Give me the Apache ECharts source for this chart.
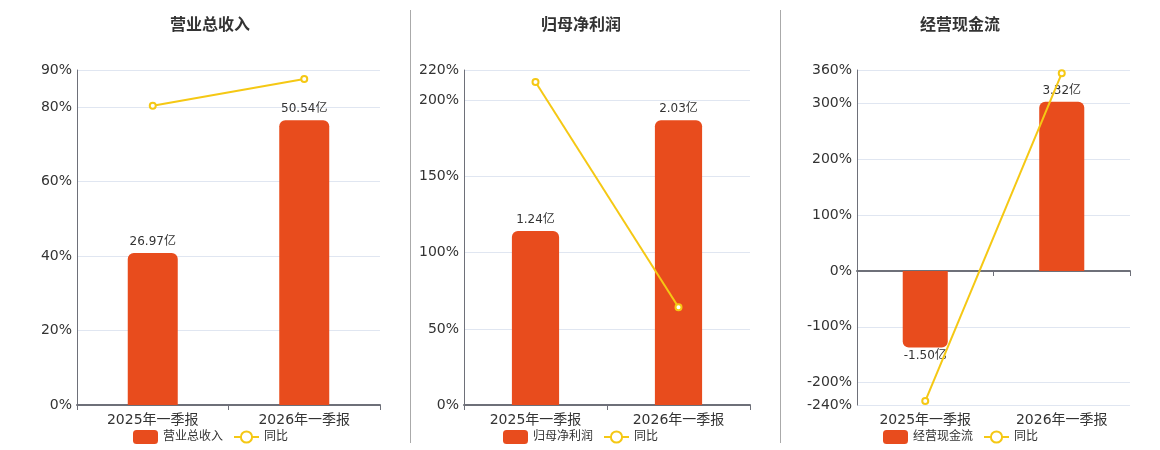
<!DOCTYPE html>
<html>
<head>
<meta charset="utf-8">
<script src="https://cdn.jsdelivr.net/npm/echarts@6/dist/echarts.min.js"></script>
<style>
html,body{margin:0;padding:0;background:#fff;}
#c{width:1160px;height:450px;}
</style>
</head>
<body>
<div id="c"></div>
<script>
const categories = ['2025年一季报', '2026年一季报'];
const titles = ['营业总收入', '归母净利润', '经营现金流'];
const revenue = [26.97, 50.54];
const revenueYoy = [80.4, 87.6];
const profit = [1.24, 2.03];
const profitYoy = [212.1, 64.2];
const cashflow = [-1.50, 3.32];
const cashflowYoy = [-233, 354];
const yoyName = '同比';
const revenueTicks = [0, 20, 40, 60, 80, 90];
const profitTicks = [0, 50, 100, 150, 200, 220];
const cashflowTicks = [-240, -200, -100, 0, 100, 200, 300, 360];

const FONT = '"DejaVu Sans", "Noto Sans CJK SC", sans-serif';
const BAR_COLOR = '#E84C1D';
const LINE_COLOR = '#F5C814';
const barSets = [revenue, profit, cashflow];
const yoySets = [revenueYoy, profitYoy, cashflowYoy];
const tickSets = [revenueTicks, profitTicks, cashflowTicks];

const grids = [
  {left: 77, right: 1160 - 380, top: 70, bottom: 45},
  {left: 464, right: 1160 - 750, top: 70, bottom: 45},
  {left: 857, right: 1160 - 1130, top: 70, bottom: 45}
];
const titleX = [205, 576, 955];
const legendX = [128, 498, 878];

const option = {
  animation: false,
  textStyle: {fontFamily: FONT},
  title: titles.map((t, i) => ({
    text: t, left: titleX[i], top: 13, textAlign: 'center',
    textStyle: {fontSize: 16, fontWeight: 'bold', color: '#333', fontFamily: FONT}
  })),
  legend: titles.map((t, i) => ({
    data: [t, yoyName], left: legendX[i], top: 425,
    itemWidth: 25, itemHeight: 14, itemGap: 10,
    textStyle: {fontSize: 12, color: '#333', fontFamily: FONT}
  })),
  grid: grids,
  xAxis: [],
  yAxis: [],
  series: [],
  graphic: [
    {type: 'line', shape: {x1: 410.5, y1: 10, x2: 410.5, y2: 443}, style: {stroke: '#aaa', lineWidth: 1}},
    {type: 'line', shape: {x1: 780.5, y1: 10, x2: 780.5, y2: 443}, style: {stroke: '#aaa', lineWidth: 1}}
  ]
};

for (let i = 0; i < 3; i++) {
  const ticks = tickSets[i];
  const pmin = ticks[0], pmax = ticks[ticks.length - 1];
  const neg = pmin < 0;
  const xi = option.xAxis.length;
  option.xAxis.push({
    type: 'category', gridIndex: i, data: categories,
    axisLine: {show: true, onZero: true, lineStyle: {color: '#6E7079', width: 2}},
    axisTick: {show: true, lineStyle: {color: '#6E7079'}},
    axisLabel: {show: !neg, fontSize: 14, color: '#333', margin: 8, fontFamily: FONT}
  });
  if (neg) {
    option.xAxis.push({
      type: 'category', gridIndex: i, data: categories, position: 'bottom',
      axisLine: {show: false, onZero: false}, axisTick: {show: false},
      axisLabel: {show: true, fontSize: 14, color: '#333', margin: 8, fontFamily: FONT}
    });
  }
  const pi = option.yAxis.length;
  option.yAxis.push({
    type: 'value', gridIndex: i, min: pmin, max: pmax,
    axisLine: {show: true, lineStyle: {color: '#6E7079'}},
    axisTick: {show: false, customValues: ticks},
    splitLine: {lineStyle: {color: '#E0E6F1'}, customValues: ticks},
    axisLabel: {formatter: '{value}%', fontSize: 14, color: '#333', margin: 5, fontFamily: FONT,
      customValues: ticks}
  });
  const vals = barSets[i];
  const vmax = Math.max.apply(null, vals) / 0.85;
  const ratio = pmin / pmax;
  const bi = option.yAxis.length;
  option.yAxis.push({
    type: 'value', gridIndex: i, show: false,
    min: neg ? vmax * 1.01 * ratio : 0, max: neg ? vmax * 1.01 : vmax,
    splitLine: {show: false}
  });
  option.series.push({
    name: titles[i], type: 'bar', xAxisIndex: xi, yAxisIndex: bi,
    barWidth: '33%',
    itemStyle: {color: BAR_COLOR},
    data: vals.map(v => ({
      value: v,
      itemStyle: {borderRadius: v < 0 ? [0, 0, 6, 6] : [6, 6, 0, 0]},
      label: {position: v < 0 ? 'bottom' : 'top', distance: v < 0 ? 2 : 5}
    })),
    label: {show: true, fontSize: 12, color: '#333', fontFamily: FONT,
      formatter: p => p.value.toFixed(2) + '亿'}
  });
  option.series.push({
    name: yoyName, type: 'line', xAxisIndex: xi, yAxisIndex: pi,
    data: yoySets[i], symbol: 'emptyCircle', symbolSize: 6,
    itemStyle: {color: LINE_COLOR}, lineStyle: {color: LINE_COLOR, width: 2},
    z: 5
  });
}

const chart = echarts.init(document.getElementById('c'));
chart.setOption(option);
</script>
</body>
</html>
